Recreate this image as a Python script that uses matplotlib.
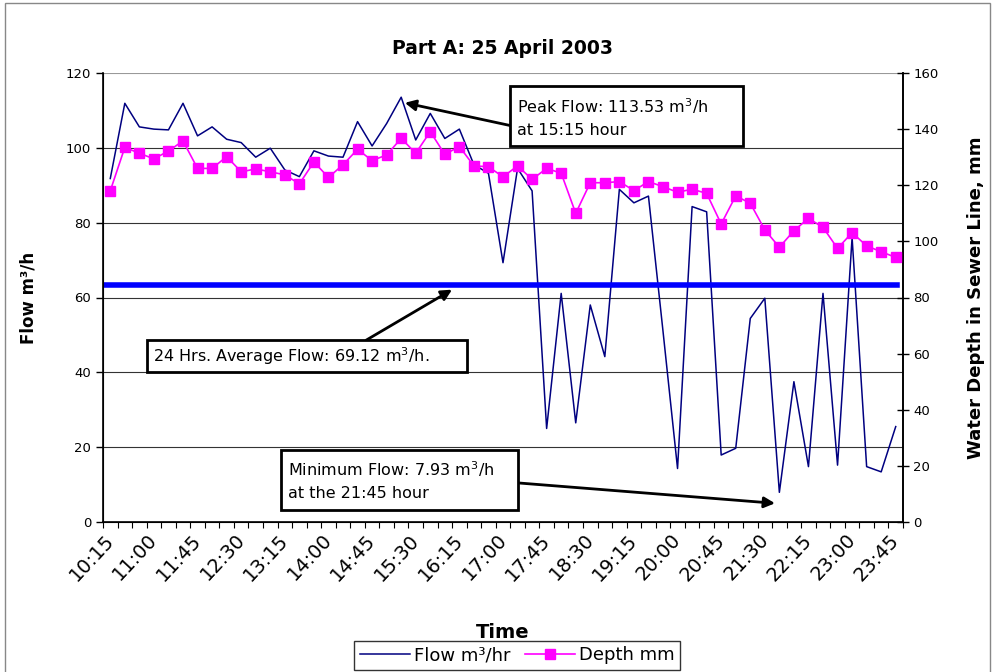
import matplotlib
matplotlib.use("Agg")
from matplotlib import pyplot as plt
from matplotlib.patches import Rectangle
import numpy as np

plt.rcParams['font.family'] = ['DejaVu Sans']

# 15-minute readings, 10:15 .. 23:45
TIMES = []
for k in range(55):
	m = 10*60 + 15 + 15*k
	TIMES.append('%d:%02d' % (m // 60, m % 60))

FLOW = [91.8, 111.9, 105.6, 105.0, 104.8, 111.9, 103.2, 105.6, 102.3, 101.4,
	97.5, 99.9, 94.1, 92.3, 99.2, 97.8, 97.5, 107.0, 100.5, 106.5,
	113.53, 102.1, 109.2, 102.5, 105.0, 95.5, 93.2, 69.3, 94.5, 88.5,
	25.0, 61.1, 26.5, 58.0, 44.2, 88.9, 85.3, 87.1, 51.0, 14.3,
	84.3, 82.9, 17.9, 19.7, 54.4, 59.8, 7.93, 37.5, 14.8, 61.1,
	15.2, 76.0, 14.8, 13.4, 25.5]

DEPTH = [118.0, 133.5, 131.4, 129.4, 132.2, 135.8, 126.0, 126.0, 130.2, 124.8,
	125.8, 124.8, 123.7, 120.5, 128.3, 122.8, 127.3, 132.8, 128.8, 130.8,
	136.7, 131.4, 139.1, 131.0, 133.8, 126.9, 126.6, 123.0, 126.9, 122.1,
	126.0, 124.3, 110.0, 120.9, 120.9, 121.3, 118.1, 121.3, 119.5, 117.5,
	118.6, 117.1, 106.2, 116.2, 113.6, 104.1, 97.9, 103.8, 108.2, 105.0,
	97.5, 103.1, 98.4, 96.3, 94.3]

AVG_LEVEL = 63.3   # where the average line is drawn on the flow axis
PEAK_IDX = 20
MIN_IDX = 46

fig = plt.figure(figsize=(9.95, 6.72), dpi=100)
ax1 = fig.add_axes([103/995., 1-522/672., 800/995., 449/672.])
ax2 = ax1.twinx()

xAx = np.arange(len(TIMES))

# flow axis
ax1.set_ylim(0, 120)
ax1.set_yticks(np.arange(0, 121, 20))
for v in range(20, 101, 20):
	ax1.axhline(v, color='#333333', lw=0.8, zorder=0)
ax1.axhline(120, color='#999999', lw=0.8, zorder=0)

ax1.plot(xAx, FLOW, color='#000080', lw=1.1, zorder=3, label='Flow m³/hr')
ax1.axhline(AVG_LEVEL, xmin=0, xmax=0.993, color='#0000ff', lw=4, zorder=4)

ax1.set_xticks(np.arange(-0.5, len(TIMES), 1), minor=True)
# labels sit a little left of their category so the text ends at the point
ax1.set_xticks(xAx[::3] - 0.45)
ax1.set_xticklabels(TIMES[::3], rotation=47, ha='right', va='top',
	rotation_mode='anchor', fontsize=14)
ax1.set_xlim(-0.5, len(TIMES)-0.5)
ax1.tick_params(axis='x', which='major', length=0, pad=6)
ax1.tick_params(axis='x', which='minor', length=4, direction='out', width=0.8)
ax1.tick_params(axis='y', length=5, direction='out', labelsize=9.5, width=1)

ax1.set_xlabel('Time', fontsize=14, fontweight='bold')
ax1.xaxis.set_label_coords(0.5, -0.225)
ax1.set_ylabel('Flow m³/h', fontsize=12, fontweight='bold')
ax1.yaxis.set_label_coords(-0.082, 0.5)

for s in ['left', 'bottom', 'right']:
	ax1.spines[s].set_linewidth(1.2)
ax1.spines['top'].set_visible(False)

# depth axis
ax2.set_ylim(0, 160)
ax2.set_yticks(np.arange(0, 161, 20))
ax2.tick_params(axis='y', length=8, direction='inout', labelsize=9.5, width=1)
ax2.plot(xAx, DEPTH, color='#ff00ff', lw=1.2, marker='s', markersize=7.5,
	markeredgecolor='#ff00ff', zorder=5, label='Depth mm')
ax2.set_ylabel('Water Depth in Sewer Line, mm', fontsize=13, fontweight='bold')
ax2.yaxis.set_label_coords(1.08, 0.5)
ax2.spines['top'].set_visible(False)
ax2.spines['right'].set_linewidth(1.2)
ax2.set_xlim(-0.5, len(TIMES)-0.5)

# annotation boxes (axes fraction)
def box(x0, y0, x1, y1):
	r = Rectangle((x0, y0), x1-x0, y1-y0, transform=ax2.transAxes,
		facecolor='white', edgecolor='black', lw=2, zorder=8)
	ax2.add_patch(r)

arrow = dict(arrowstyle='-|>', lw=2, color='black', mutation_scale=16, shrinkA=0, shrinkB=0)
BOXFONT = 11.5

box(0.509, 0.837, 0.800, 0.971)
ax2.text(0.5175, 0.926, 'Peak Flow: 113.53 m$^3$/h', transform=ax2.transAxes,
	fontsize=BOXFONT, va='center', zorder=9)
ax2.text(0.5175, 0.873, 'at 15:15 hour', transform=ax2.transAxes,
	fontsize=BOXFONT, va='center', zorder=9)
ax1.annotate('', xy=(PEAK_IDX+0.25, FLOW[PEAK_IDX]-1.5), xycoords='data',
	xytext=(0.509, 0.883), textcoords='axes fraction', arrowprops=arrow, zorder=9)

box(0.055, 0.334, 0.455, 0.405)
ax2.text(0.062, 0.369, '24 Hrs. Average Flow: 69.12 m$^3$/h.', transform=ax2.transAxes,
	fontsize=BOXFONT, va='center', zorder=9)
ax1.annotate('', xy=(23.5, AVG_LEVEL-1.2), xycoords='data',
	xytext=(0.329, 0.405), textcoords='axes fraction', arrowprops=arrow, zorder=9)

box(0.223, 0.027, 0.519, 0.16)
ax2.text(0.231, 0.118, 'Minimum Flow: 7.93 m$^3$/h', transform=ax2.transAxes,
	fontsize=BOXFONT, va='center', zorder=9)
ax2.text(0.231, 0.064, 'at the 21:45 hour', transform=ax2.transAxes,
	fontsize=BOXFONT, va='center', zorder=9)
ax1.annotate('', xy=(MIN_IDX-0.3, 5.0), xycoords='data',
	xytext=(0.519, 0.087), textcoords='axes fraction', arrowprops=arrow, zorder=9)

# title
fig.text(503/995., 1-49/672., 'Part A: 25 April 2003', fontsize=13.5, fontweight='bold',
	ha='center', va='center')

# legend, sitting at the bottom edge
h1, l1 = ax1.get_legend_handles_labels()
h2, l2 = ax2.get_legend_handles_labels()
leg = fig.legend(h1+h2, l1+l2, loc='upper center', bbox_to_anchor=(517/995., 1-632/672.),
	ncol=2, fontsize=13, frameon=True, fancybox=False, handlelength=2.8,
	columnspacing=0.8, handletextpad=0.2, borderpad=0.3)
leg.get_frame().set_edgecolor('black')
leg.get_frame().set_linewidth(1.0)

# outer chart border
fig.patches.append(Rectangle((5/995., -0.05), 0.99, 0.05+1-3/672., transform=fig.transFigure,
	fill=False, edgecolor='#888888', lw=1))

plt.savefig('out.png', dpi=100)
